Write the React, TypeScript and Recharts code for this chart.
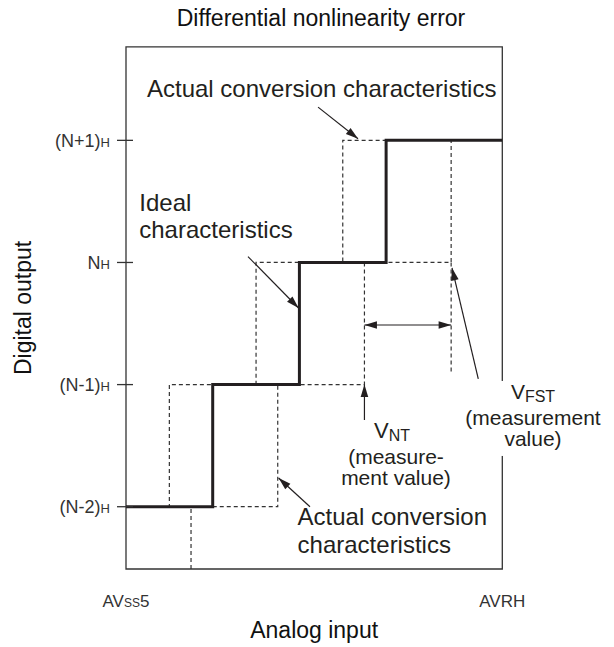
import React from 'react';
import { LineChart, Line, XAxis, YAxis, ReferenceArea, ReferenceLine, ReferenceDot } from 'recharts';

// ---- axis extents (LSB units on x, output code offsets on y) ----
const X_MAX = 4.34;
const Y_MIN = -2.51;
const Y_MAX = 1.766;

// ---- output codes on the y axis ----
const CODE_LEVELS = [-2, -1, 0, 1];
const CODE_NAMES = ['(N-2)', '(N-1)', 'N', '(N+1)'];
const CODE_SUFFIX = 'H';

// ---- analog input end labels ----
const X_TICKS = [0, X_MAX];
const X_TICK_HEAD = ['AV', 'AVRH'];
const X_TICK_SMALL = ['SS', ''];
const X_TICK_TAIL = ['5', ''];

// ---- ideal characteristic (step starts) ----
const IDEAL_X = [0, 1, 2, 3, X_MAX];
const IDEAL_Y = [-2, -1, 0, 1, 1];

// ---- actual characteristic, early transitions ----
const EARLY_X = [0, 0.5, 1.5, 2.5, 3];
const EARLY_Y = [-2, -1, 0, 1, 1];

// ---- actual characteristic, late transitions ----
const LATE_X = [0.75, 0.75, 1.75, 2.75, 3.75];
const LATE_Y = [Y_MIN, -2, -1, 0, 1];

// ---- V_FST measurement guide ----
const GUIDE_X = [3.75, 3.75];
const GUIDE_Y = [0, -0.897];

// ---- arrows ----
const ARROW_FROM_X = [2.215, 1.407, 2.122, 4.063, 2.75, 2.75];
const ARROW_FROM_Y = [1.272, 0.048, -2.0, -0.954, -1.29, -0.512];
const ARROW_TO_X = [2.676, 1.99, 1.76, 3.76, 2.75, 3.75];
const ARROW_TO_Y = [1.013, -0.373, -1.765, -0.045, -1.0, -0.512];
const ARROW_DOUBLE = [false, false, false, false, false, true];

// ---- annotation anchors ----
const NOTE_X = [0.242, 0.153, 1.979, 3.114, 4.694];
const NOTE_Y = [1.355, 0.424, -2.15, -1.454, -1.134];

const zip = (xs: number[], ys: number[]) => xs.map((x, i) => ({ x, y: ys[i] }));

const W = 614;
const H = 647;
const PLOT = { left: 126, top: 46.8, right: 502.3, bottom: 569 };

const FONT = "'Liberation Sans', Arial, Helvetica, sans-serif";
const INK = '#231f20';
const GREY = '#333333';

const YTick = (p: any) => {
  const { x, y, payload } = p;
  const i = CODE_LEVELS.indexOf(payload.value);
  return (
    <g>
      <line x1={x - 9} x2={x + 7} y1={y} y2={y} stroke={GREY} strokeWidth={1.3} />
      <text x={x - 16} y={y + 6.5} textAnchor="end" fontSize={18} fill={GREY} fontFamily={FONT}>
        {CODE_NAMES[i]}
        <tspan fontSize={13}>{CODE_SUFFIX}</tspan>
      </text>
    </g>
  );
};

const XTick = (p: any) => {
  const { x, y, payload } = p;
  const i = X_TICKS.indexOf(payload.value);
  return (
    <text x={x} y={y + 37.7} textAnchor="middle" fontSize={17} fill={GREY} fontFamily={FONT}>
      {X_TICK_HEAD[i]}
      {X_TICK_SMALL[i] ? <tspan fontSize={12}>{X_TICK_SMALL[i]}</tspan> : null}
      {X_TICK_TAIL[i] ? <tspan fontSize={17}>{X_TICK_TAIL[i]}</tspan> : null}
    </text>
  );
};

const headPts = (tx: number, ty: number, fx: number, fy: number) => {
  const dx = tx - fx;
  const dy = ty - fy;
  const len = Math.hypot(dx, dy) || 1;
  const ux = dx / len;
  const uy = dy / len;
  const L = 12.5;
  const Wd = 3.8;
  const bx = tx - ux * L;
  const by = ty - uy * L;
  return `${tx},${ty} ${bx - uy * Wd},${by + ux * Wd} ${bx + uy * Wd},${by - ux * Wd}`;
};

const arrowShape = (both: boolean) => (p: any) => {
  const { x1, y1, x2, y2 } = p;
  return (
    <g>
      <line x1={x1} y1={y1} x2={x2} y2={y2} stroke={INK} strokeWidth={1.2} />
      <polygon points={headPts(x2, y2, x1, y1)} fill={INK} />
      {both ? <polygon points={headPts(x1, y1, x2, y2)} fill={INK} /> : null}
    </g>
  );
};

const renderNote = (i: number) => (p: any) => {
  const { cx, cy } = p;
  const common = { fontFamily: FONT, fill: INK };
  switch (i) {
    case 0:
      return (
        <text x={cx} y={cy} fontSize={24} {...common}>
          Actual conversion characteristics
        </text>
      );
    case 1:
      return (
        <text fontSize={24} {...common}>
          <tspan x={cx} y={cy}>Ideal</tspan>
          <tspan x={cx} y={cy + 27.5}>characteristics</tspan>
        </text>
      );
    case 2:
      return (
        <text fontSize={24} {...common}>
          <tspan x={cx} y={cy}>Actual conversion</tspan>
          <tspan x={cx} y={cy + 28}>characteristics</tspan>
        </text>
      );
    case 3:
      return (
        <g {...common}>
          <text x={cx - 4} y={cy - 2} textAnchor="middle" fontSize={22}>
            V<tspan fontSize={16} dy={3}>NT</tspan>
          </text>
          <text x={cx} y={cy + 24} textAnchor="middle" fontSize={21}>(measure-</text>
          <text x={cx} y={cy + 45} textAnchor="middle" fontSize={21}>ment value)</text>
        </g>
      );
    default:
      return (
        <g {...common}>
          <rect x={cx - 70} y={cy - 20} width={140} height={75} fill="#ffffff" />
          <text x={cx} y={cy - 2} textAnchor="middle" fontSize={21}>
            V<tspan fontSize={16} dy={3}>FST</tspan>
          </text>
          <text x={cx} y={cy + 24} textAnchor="middle" fontSize={21}>(measurement</text>
          <text x={cx} y={cy + 45} textAnchor="middle" fontSize={21}>value)</text>
        </g>
      );
  }
};

export default function App() {
  const dashed = { stroke: GREY, strokeWidth: 1.2, strokeDasharray: '4 3' };
  return (
    <div style={{ position: 'absolute', left: 0, top: 0, width: W, height: H, background: '#fff' }}>
      <LineChart
        width={W}
        height={H}
        margin={{ top: PLOT.top, right: W - PLOT.right, bottom: 0, left: 0 }}
      >
        <XAxis
          type="number"
          dataKey="x"
          domain={[0, X_MAX]}
          ticks={X_TICKS}
          interval={0}
          tick={XTick}
          tickLine={false}
          axisLine={false}
          tickSize={0}
          tickMargin={0}
          height={H - PLOT.bottom}
          allowDataOverflow
        />
        <YAxis
          type="number"
          domain={[Y_MIN, Y_MAX]}
          ticks={CODE_LEVELS}
          interval={0}
          tick={YTick}
          tickLine={false}
          axisLine={false}
          tickSize={0}
          tickMargin={0}
          width={PLOT.left}
          allowDataOverflow
        />
        <ReferenceArea
          x1={0}
          x2={X_MAX}
          y1={Y_MIN}
          y2={Y_MAX}
          fill="none"
          fillOpacity={0}
          stroke={GREY}
          strokeWidth={1.3}
          ifOverflow="visible"
        />
        <Line data={zip(EARLY_X, EARLY_Y)} dataKey="y" type="stepAfter" {...dashed} dot={false} activeDot={false} isAnimationActive={false} />
        <Line data={zip(LATE_X, LATE_Y)} dataKey="y" type="stepAfter" {...dashed} dot={false} activeDot={false} isAnimationActive={false} />
        <Line data={zip(GUIDE_X, GUIDE_Y)} dataKey="y" type="linear" {...dashed} dot={false} activeDot={false} isAnimationActive={false} />
        <Line data={zip(IDEAL_X, IDEAL_Y)} dataKey="y" type="stepAfter" stroke={INK} strokeWidth={3} dot={false} activeDot={false} isAnimationActive={false} />
        {ARROW_FROM_X.map((fx, i) => (
          <ReferenceLine
            key={`a${i}`}
            segment={[
              { x: fx, y: ARROW_FROM_Y[i] },
              { x: ARROW_TO_X[i], y: ARROW_TO_Y[i] },
            ]}
            ifOverflow="visible"
            shape={arrowShape(ARROW_DOUBLE[i])}
          />
        ))}
        {NOTE_X.map((nx, i) => (
          <ReferenceDot key={`n${i}`} x={nx} y={NOTE_Y[i]} r={0} ifOverflow="visible" shape={renderNote(i)} />
        ))}
      </LineChart>
      <svg
        width={W}
        height={H}
        style={{ position: 'absolute', left: 0, top: 0, pointerEvents: 'none' }}
        fontFamily={FONT}
      >
        <text x={321} y={26} textAnchor="middle" fontSize={23} fill="#111">
          Differential nonlinearity error
        </text>
        <text x={(PLOT.left + PLOT.right) / 2} y={638} textAnchor="middle" fontSize={23} fill="#111">
          Analog input
        </text>
        <text
          transform={`translate(31, ${(PLOT.top + PLOT.bottom) / 2}) rotate(-90)`}
          textAnchor="middle"
          fontSize={23}
          fill="#111"
        >
          Digital output
        </text>
      </svg>
    </div>
  );
}
